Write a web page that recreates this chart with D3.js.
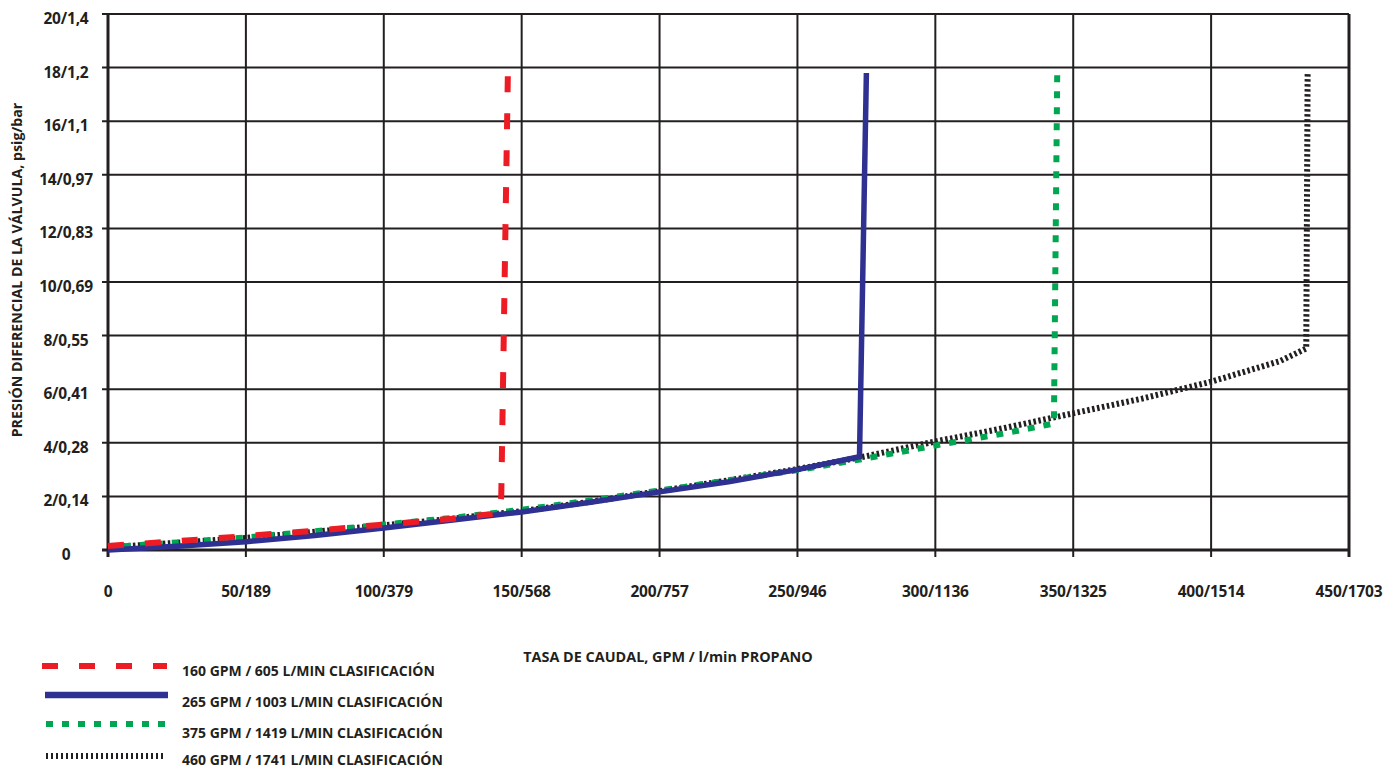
<!DOCTYPE html>
<html><head><meta charset="utf-8">
<script src="https://cdn.jsdelivr.net/npm/d3@7"></script>
<style>
body{margin:0;background:#fff;}
text{font-family:"Open Sans","Lato",sans-serif;font-weight:700;fill:#231f20;}
</style></head>
<body><svg id="c" width="1395" height="769"></svg>
<script>
const xTicks = [0,50,100,150,200,250,300,350,400,450];
const xTickLabels = ["0","50/189","100/379","150/568","200/757","250/946","300/1136","350/1325","400/1514","450/1703"];
const yTicks = [0,2,4,6,8,10,12,14,16,18,20];
const yTickLabels = ["0","2/0,14","4/0,28","6/0,41","8/0,55","10/0,69","12/0,83","14/0,97","16/1,1","18/1,2","20/1,4"];

const flowRed = [0,25,50,75,100,125,142,142.6,145];
const psiRed  = [0.15,0.33,0.52,0.72,0.95,1.17,1.38,2.0,17.8];
const flowBlue = [0,25,50,75,100,125,150,175,200,225,250,272.5,275];
const psiBlue  = [0,0.14,0.31,0.54,0.82,1.12,1.42,1.78,2.17,2.55,3.0,3.48,17.8];
const flowGreen = [0,25,50,75,100,125,150,175,200,225,250,275,300,325,343,344.2];
const psiGreen  = [0.1,0.28,0.47,0.7,0.95,1.2,1.5,1.85,2.22,2.6,2.98,3.42,3.9,4.35,4.72,17.8];
const flowBlack = [0,25,50,75,100,125,150,175,200,225,250,275,300,325,350,375,400,425,434.5,435];
const psiBlack  = [0.1,0.27,0.45,0.68,0.92,1.17,1.45,1.8,2.2,2.6,3.02,3.5,4.05,4.55,5.1,5.65,6.28,7.05,7.52,17.8];

const seriesNames = ["160 GPM / 605 L/MIN CLASIFICACIÓN","265 GPM / 1003 L/MIN CLASIFICACIÓN","375 GPM / 1419 L/MIN CLASIFICACIÓN","460 GPM / 1741 L/MIN CLASIFICACIÓN"];
const xTitle = "TASA DE CAUDAL, GPM / l/min PROPANO";
const yTitle = "PRESIÓN DIFERENCIAL DE LA VÁLVULA, psig/bar";

const styles = [
  {color:"#ed1c24", w:6, dash:"16,21"},
  {color:"#2e3192", w:5.5, dash:null},
  {color:"#00a651", w:6, dash:"7,9"},
  {color:"#231f20", w:6, dash:"2.5,2.5"}
];
const series = [[flowRed,psiRed],[flowBlue,psiBlue],[flowGreen,psiGreen],[flowBlack,psiBlack]];

const svg = d3.select("#c");
const L=108, T=14, W=1241, H=536;
const x = d3.scaleLinear().domain([0,450]).range([L, L+W]);
const y = d3.scaleLinear().domain([0,20]).range([T+H, T]);
const ink = "#231f20";

const g = svg.append("g");
g.selectAll(".vg").data(xTicks).enter().append("line")
  .attr("x1",d=>x(d)).attr("x2",d=>x(d)).attr("y1",T).attr("y2",T+H+7)
  .attr("stroke",ink).attr("stroke-width",d=>(d===0||d===450)?3:2);
g.selectAll(".hg").data(yTicks).enter().append("line")
  .attr("x1",L-6).attr("x2",L+W).attr("y1",d=>y(d)).attr("y2",d=>y(d))
  .attr("stroke",ink).attr("stroke-width",d=>d===0?3:2);

g.selectAll(".xl").data(xTicks).enter().append("text")
  .attr("x",d=>x(d)).attr("y",T+H+47).attr("text-anchor","middle")
  .attr("font-size",15.5).attr("letter-spacing",-0.2).text((d,i)=>xTickLabels[i]);
g.selectAll(".yl").data(yTicks).enter().append("text")
  .attr("x",66).attr("y",d=>y(d)+10).attr("text-anchor","middle")
  .attr("font-size",15.5).attr("letter-spacing",-0.2).text((d,i)=>yTickLabels[i]);

svg.append("text").attr("x",668).attr("y",662).attr("text-anchor","middle")
  .attr("font-size",14.4).text(xTitle);
svg.append("text").attr("transform","translate(22,270) rotate(-90)").attr("text-anchor","middle")
  .attr("font-size",14.2).text(yTitle);

const line = d3.line().x(d=>x(d[0])).y(d=>y(d[1]));
const order = [3,2,1,0];
order.forEach(i=>{
  const [fx,py] = series[i];
  const pts = fx.map((f,k)=>[f,py[k]]);
  const p = svg.append("path").datum(pts).attr("d",line)
    .attr("fill","none").attr("stroke",styles[i].color).attr("stroke-width",styles[i].w)
    .attr("stroke-linejoin","miter");
  if(styles[i].dash) p.attr("stroke-dasharray",styles[i].dash);
});

const legY = [666,695,724,756];
const legTextY = [675.5,706.5,737.5,765];
const legX1 = [42,45,46,46], legX2 = [167,168,166,166];
seriesNames.forEach((n,i)=>{
  const l = svg.append("line").attr("x1",legX1[i]).attr("x2",legX2[i]).attr("y1",legY[i]).attr("y2",legY[i])
    .attr("stroke",styles[i].color).attr("stroke-width",i===1?6.5:6);
  if(styles[i].dash) l.attr("stroke-dasharray",i===3?"2,3":styles[i].dash);
  if(i===3) l.attr("shape-rendering","crispEdges");
  svg.append("text").attr("x",182).attr("y",legTextY[i]).attr("font-size",14).text(n);
});
</script></body></html>
